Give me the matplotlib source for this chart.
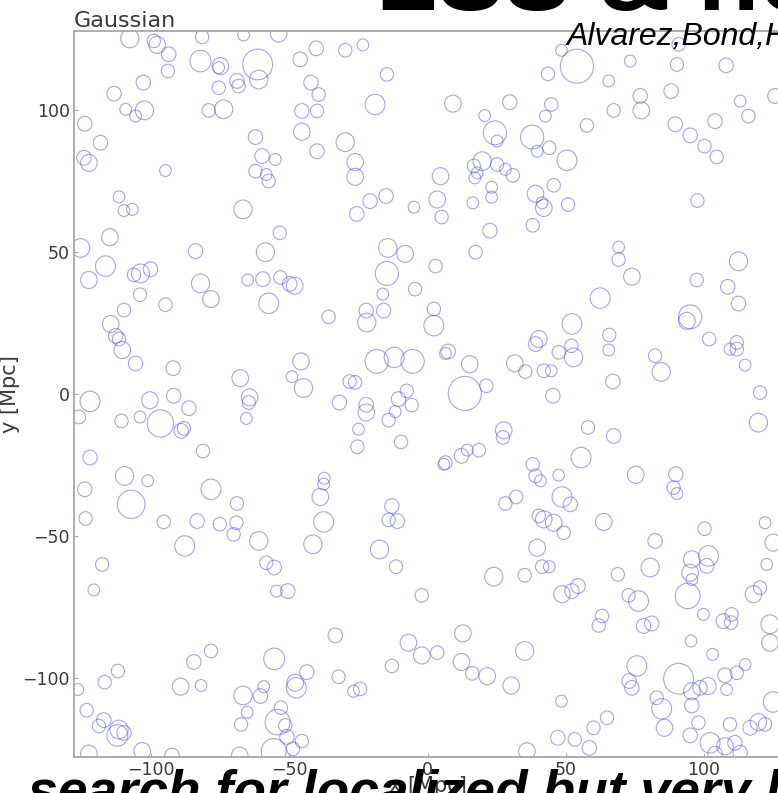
import numpy as np
import matplotlib
matplotlib.use("Agg")
import matplotlib.pyplot as plt
from matplotlib.patches import Circle
from matplotlib.collections import PatchCollection

bubble_x = [
    # upper left
    -107.8, -97.9, -99.1, -93.7, -94.0, -81.6, -66.6, -53.9, -82.2, -75.0,
    -75.6, -61.5, -61.1, -69.0, -68.4, -75.6, -73.8, -79.2, -102.9, -113.5,
    -109.3, -105.7, -102.5, -124.1, -118.4, -124.4, -122.6, -94.9, -111.7, -109.9,
    -106.9, -66.8, -62.3, -59.9, -55.1, -62.3, -58.4, -57.5, -46.1, -40.3,
    -29.8, -23.4, -42.2, -39.4, -45.5, -40.0, -45.5, -40.0, -29.8, -26.2,
    -26.2, -19.0, -14.7, -15.0, -20.8, -25.6, -4.9, -53.5, -58.7, -84.0,
    -115.0, -125.6, -116.6, -103.9, -100.3, -106.3, -14.4, -8.1, -14.7,
    # upper right
    54.1, 48.5, 43.6, 73.4, 90.3, 90.9, 108.1, 65.6, 88.2, 77.0,
    77.4, 67.4, 9.2, 29.8, 20.7, 24.4, 25.2, 37.9, 44.8, 42.7,
    57.7, 44.1, 39.7, 50.5, 19.8, 16.8, 18.0, 25.2, 28.2, 30.9,
    17.1, 4.7, 3.5, 5.1, 23.2, 23.2, 16.4, 39.1, 42.1, 41.5,
    45.7, 50.9, 22.6, 38.1, 17.4, 2.9, 69.2, 69.2, 112.6, 97.7,
    89.7, 95.1, 100.3, 104.7, 104.1, 113.2, 116.2, 125.8,
    # middle left
    -122.6, -82.2, -78.4, -65.1, -59.6, -53.3, -49.9, -48.1, -57.5, -104.1,
    -94.9, -109.9, -114.7, -112.9, -111.7, -110.5, -105.7, -92.1, -67.8, -64.4,
    -64.7, -65.6, -35.8, -45.8, -49.1, -44.9, -22.2, -22.0, -15.9, -16.2,
    -4.5, -18.4, -12.1, -5.4, -28.2, -26.2, -31.9, -22.2, -22.2, -7.5,
    -10.5, -5.7, -11.7, -14.1, -25.0, -25.4, -9.6, -122.2, -126.2, -100.5,
    -91.9, -86.4, -104.1, -110.8, -96.7, -89.2, -88.2, -81.3, -122.2, -109.7,
    -101.3, -124.1, -78.4, -107.3, -69.0, -37.4, -37.6, -38.8, -12.9,
    # middle right
    74.0, 97.5, 108.7, 112.6, 62.5, 95.1, 93.9, 2.3, 2.3, 7.5,
    6.5, 15.3, 13.5, 21.3, 31.6, 35.4, 40.3, 39.1, 52.3, 47.5,
    52.1, 52.9, 42.1, 44.8, 45.4, 65.8, 65.6, 67.1, 82.4, 84.6,
    102.0, 112.0, 109.5, 112.0, 115.0, 120.4, 119.8, 27.6, 27.3, 6.5,
    5.9, 12.3, 14.4, 18.6, 58.1, 67.4, 55.6, 38.1, 39.1, 40.9,
    47.5, 75.4, 89.9, 89.1, 90.3, 28.2, 32.1, 48.7, 51.7,
    # lower left
    -123.8, -95.5, -83.4, -75.2, -69.2, -70.2, -87.9, -61.1, -37.6, -41.5,
    -14.1, -10.9, -17.4, -11.4, -117.8, -120.8, -58.4, -55.5, -54.7, -50.6,
    -2.1, -33.4, -6.9, -2.1, -12.9, -78.4, -84.6, -55.5, -112.1, -116.9,
    -126.6, -89.4, -82.0, -47.9, -47.5, -43.7, -32.2, -26.8, -24.4, -66.8,
    -60.5, -59.3, -123.4, -117.2, -119.0, -111.7, -112.3, -109.9, -65.3, -67.5,
    -54.3, -53.1, -51.5, -50.9, -45.5, -48.7, -55.7, -122.6, -103.3, -92.5,
    -68.0,
    # lower right
    42.1, 45.7, 49.3, 40.3, 63.8, 100.3, 122.2, 125.2, 122.8, 82.4,
    39.7, 80.6, 95.7, 101.7, 101.1, 95.1, 95.7, 24.0, 35.2, 41.5,
    44.1, 68.9, 48.7, 52.3, 54.5, 72.8, 76.4, 94.2, 118.0, 120.4,
    99.9, 107.1, 110.1, 109.9, 63.2, 62.0, 78.2, 81.2, 124.0, 124.0,
    95.4, 103.2, 12.8, 3.5, 35.2, 12.3, 16.2, 21.6, 30.3, 75.8,
    73.0, 74.0, 90.9, 95.7, 98.7, 101.5, 107.7, 112.0, 115.0, 108.3,
    125.2, 83.0, 84.8, 95.7, 85.8, 95.1, 98.1, 109.5, 116.8, 119.8,
    122.2, 102.3, 107.7, 111.3, 113.2, 104.1, 48.5, 65.0, 60.1, 53.3,
    47.2, 58.6, 36.0,
]

bubble_y = [
    # upper left
    125.4, 123.1, 124.5, 119.8, 113.9, 125.9, 126.6, 127.1, 117.4, 115.6,
    115.1, 116.2, 110.9, 110.4, 108.6, 108.0, 100.4, 100.0, 109.8, 105.9,
    100.4, 98.0, 100.0, 95.3, 88.6, 83.3, 81.5, 78.8, 69.5, 64.7,
    65.1, 65.1, 90.6, 83.9, 82.7, 78.6, 77.4, 75.1, 118.0, 121.9,
    121.2, 123.1, 109.8, 105.6, 99.8, 99.8, 92.5, 85.6, 88.8, 81.8,
    76.6, 102.1, 112.7, 69.8, 68.0, 63.5, 65.9, 56.8, 50.0, 50.4,
    55.3, 51.5, 45.1, 42.5, 44.0, 42.0, 51.5, 49.4, 42.5,
    # upper right
    115.6, 121.2, 112.9, 117.4, 116.2, 123.3, 115.9, 110.4, 106.8, 105.1,
    100.0, 100.0, 102.4, 102.9, 98.2, 92.1, 89.2, 90.6, 102.1, 98.0,
    94.7, 86.8, 85.6, 82.4, 82.1, 80.4, 78.0, 80.9, 79.2, 77.1,
    76.2, 76.8, 68.6, 62.4, 72.9, 69.4, 67.4, 70.6, 65.6, 67.4,
    73.6, 66.8, 57.6, 59.5, 50.0, 45.1, 51.8, 47.4, 46.8, 68.2,
    95.1, 91.2, 87.4, 83.6, 96.2, 103.3, 98.0, 105.1,
    # middle left
    40.2, 39.0, 33.5, 40.2, 40.5, 41.1, 38.8, 38.2, 32.0, 35.0,
    31.5, 29.6, 24.7, 20.5, 19.4, 15.5, 10.8, 9.1, 5.6, -1.2,
    -3.0, -8.6, 27.2, 11.5, 6.1, 2.1, 29.4, 25.2, 29.4, 35.2,
    37.0, 11.5, 12.9, 11.5, 4.4, 4.1, -3.0, -3.8, -6.5, 1.1,
    -1.8, -3.9, -6.2, -9.2, -12.4, -18.6, -16.9, -2.6, -8.1, -2.2,
    -0.6, -5.0, -8.1, -9.5, -10.4, -13.0, -12.1, -20.1, -22.4, -28.9,
    -30.6, -33.6, -33.6, -38.9, -38.6, -29.7, -31.8, -36.3, -39.5,
    # middle right
    41.4, 40.2, 37.8, 31.9, 33.8, 27.2, 25.8, 30.0, 24.1, 15.0,
    14.3, 10.5, 0.2, 2.9, 10.8, 7.9, 19.4, 17.6, 24.7, 14.7,
    17.0, 12.9, 8.2, 8.2, -0.6, 20.8, 15.5, 4.4, 13.5, 7.8,
    19.4, 18.2, 15.8, 15.8, 10.2, 0.5, -10.1, -12.8, -15.3, -24.2,
    -24.8, -21.8, -19.8, -19.8, -11.8, -14.8, -22.4, -24.8, -28.9, -30.6,
    -28.6, -28.5, -28.3, -33.0, -35.1, -38.6, -36.3, -36.3, -38.9,
    # lower left
    -43.9, -45.1, -44.8, -45.9, -45.4, -49.5, -53.6, -51.8, -45.1, -53.0,
    -44.4, -44.8, -54.8, -60.9, -60.1, -69.1, -59.5, -61.2, -69.5, -69.5,
    -71.0, -85.1, -87.7, -92.2, -95.9, -90.6, -94.5, -93.4, -97.7, -101.6,
    -104.2, -103.2, -102.8, -101.8, -103.6, -98.1, -99.7, -104.8, -104.0, -106.3,
    -106.5, -103.2, -111.5, -115.0, -117.1, -118.3, -120.4, -119.5, -112.2, -116.5,
    -115.7, -110.6, -116.9, -120.9, -122.4, -125.1, -126.0, -126.8, -125.9, -127.5,
    -127.5,
    # lower right
    -44.2, -45.4, -48.9, -43.0, -45.1, -47.5, -45.4, -52.4, -60.1, -51.8,
    -54.2, -61.2, -58.3, -57.1, -60.6, -63.0, -65.4, -64.4, -63.9, -60.9,
    -60.9, -63.6, -70.6, -69.5, -67.7, -71.0, -73.0, -71.2, -70.6, -68.3,
    -77.7, -80.1, -77.7, -80.6, -78.3, -81.6, -81.8, -80.9, -81.2, -87.7,
    -87.1, -91.8, -84.4, -91.2, -90.6, -94.5, -98.5, -99.5, -102.8, -95.9,
    -101.2, -103.6, -100.4, -104.8, -103.6, -103.0, -99.2, -98.3, -95.4, -104.2,
    -108.6, -107.1, -111.0, -109.8, -117.7, -120.4, -115.9, -116.5, -117.7, -115.7,
    -116.5, -123.0, -124.2, -123.0, -126.5, -126.8, -108.3, -114.2, -117.7, -121.8,
    -121.2, -124.8, -126.0,
]

bubble_r = [
    # upper left
    3.3, 3.0, 2.4, 2.6, 2.4, 2.4, 2.1, 3.0, 3.8, 3.0,
    2.1, 5.4, 3.3, 2.6, 2.4, 2.4, 3.3, 2.4, 2.6, 2.6,
    2.1, 2.1, 3.3, 2.6, 2.6, 2.6, 3.0, 2.1, 2.1, 2.1,
    2.1, 3.3, 2.6, 2.6, 2.1, 2.4, 2.1, 2.4, 2.6, 2.6,
    2.4, 2.1, 2.6, 2.4, 2.6, 2.4, 3.0, 2.6, 3.3, 3.0,
    3.0, 3.6, 2.4, 2.6, 2.6, 2.6, 2.1, 2.4, 3.3, 2.6,
    3.0, 3.3, 3.6, 3.3, 2.6, 2.4, 3.3, 3.0, 4.2,
    # upper right
    6.0, 2.1, 2.4, 2.1, 2.4, 2.4, 2.6, 2.1, 2.6, 2.6,
    3.0, 2.4, 3.0, 2.6, 2.1, 4.2, 2.1, 4.2, 2.4, 2.1,
    2.4, 2.4, 2.1, 3.6, 3.3, 2.4, 2.1, 2.4, 2.1, 2.4,
    2.1, 3.0, 3.0, 2.4, 2.1, 2.1, 2.1, 3.0, 3.0, 2.1,
    2.4, 2.4, 2.6, 2.4, 2.4, 2.4, 2.1, 2.4, 3.3, 2.4,
    2.6, 2.6, 2.4, 2.4, 2.6, 2.1, 2.4, 2.6,
    # middle left
    3.0, 3.3, 3.0, 2.1, 2.6, 2.4, 2.6, 3.0, 3.6, 2.4,
    2.4, 2.4, 3.0, 2.6, 2.4, 3.0, 2.6, 2.6, 3.0, 3.0,
    2.4, 2.1, 2.4, 3.0, 2.1, 3.3, 2.6, 3.3, 2.6, 2.1,
    2.4, 4.2, 3.6, 4.2, 2.4, 2.4, 2.6, 2.6, 3.0, 2.4,
    2.6, 2.4, 2.1, 2.4, 2.1, 2.4, 2.4, 3.6, 2.4, 3.0,
    2.6, 2.6, 2.1, 2.4, 4.8, 2.6, 2.4, 2.4, 2.6, 3.3,
    2.1, 2.6, 3.6, 5.0, 2.4, 2.1, 2.1, 3.0, 2.6,
    # middle right
    3.0, 2.4, 2.6, 2.6, 3.6, 4.2, 3.0, 2.4, 3.6, 2.6,
    2.1, 3.0, 6.0, 2.4, 3.0, 2.4, 3.0, 2.6, 3.6, 2.4,
    2.4, 3.3, 2.4, 2.1, 2.6, 2.4, 2.1, 2.6, 2.4, 3.3,
    2.4, 2.4, 2.1, 2.4, 2.1, 2.4, 3.3, 3.0, 2.4, 2.4,
    2.1, 2.6, 2.1, 2.4, 2.4, 2.6, 3.6, 2.4, 2.4, 2.1,
    2.1, 3.0, 2.6, 2.4, 2.1, 2.4, 2.4, 3.6, 2.6,
    # lower left
    2.4, 2.4, 2.6, 2.4, 2.4, 2.4, 3.6, 3.3, 3.6, 3.3,
    2.4, 2.6, 3.3, 2.4, 2.4, 2.1, 2.4, 2.6, 2.1, 2.6,
    2.4, 2.6, 3.0, 3.0, 2.4, 2.4, 2.6, 3.8, 2.4, 2.4,
    2.1, 3.0, 2.1, 3.0, 3.6, 2.6, 2.4, 2.1, 2.4, 3.3,
    2.6, 2.1, 2.4, 2.6, 2.4, 3.3, 3.8, 2.6, 2.1, 2.4,
    4.5, 2.4, 2.4, 2.6, 2.4, 2.4, 4.5, 3.0, 3.0, 2.6,
    3.0,
    # lower right
    3.0, 3.0, 2.4, 2.4, 3.0, 2.4, 2.1, 3.0, 2.1, 2.6,
    3.0, 3.3, 3.0, 3.6, 2.6, 3.0, 2.1, 3.3, 2.4, 2.4,
    2.1, 2.4, 3.0, 2.6, 2.6, 2.4, 3.6, 4.5, 3.0, 2.4,
    2.1, 2.6, 2.4, 2.4, 2.4, 2.4, 2.6, 2.6, 3.3, 3.0,
    2.1, 2.1, 3.0, 2.4, 3.3, 3.0, 2.4, 3.0, 3.0, 3.6,
    2.6, 2.6, 5.4, 3.0, 2.6, 3.0, 2.6, 2.4, 2.1, 2.1,
    3.6, 2.4, 3.6, 2.6, 3.0, 2.6, 2.4, 2.4, 2.6, 3.0,
    2.4, 3.6, 3.0, 2.6, 2.6, 2.6, 2.1, 2.4, 2.4, 2.4,
    2.6, 2.6, 3.0,
]

ticks = [-100, -50, 0, 50, 100]
box_half = 128

fig = plt.figure(figsize=(7.78, 7.93), dpi=100)
ax = fig.add_axes([0.0951, 0.0454, 0.9088, 0.9155])

circles = [Circle((x, y), r) for x, y, r in zip(bubble_x, bubble_y, bubble_r)]
ax.add_collection(PatchCollection(circles, facecolor="none",
                                  edgecolor=(0.3, 0.3, 0.85), linewidth=0.8, alpha=0.5))

ax.set_xlim(-box_half, box_half)
ax.set_ylim(-box_half, box_half)
ax.set_xticks(ticks)
ax.set_yticks(ticks)
ax.tick_params(direction="in", length=3, color="#aaaaaa", labelsize=12.5,
               labelcolor="#3a3a3a", pad=3)
for s in ax.spines.values():
    s.set_color("#a0a0a0")
    s.set_linewidth(1.2)

ax.set_title("Gaussian", loc="left", fontsize=16, color="#3a3a3a", pad=3)
ax.set_xlabel("x [Mpc]", fontsize=15, color="#3a3a3a", labelpad=-2)
ax.set_ylabel("y [Mpc]", fontsize=15, color="#3a3a3a", labelpad=2)

# slide text around the plot
fig.text(0.483, 0.988, "LSS & non-Gaussianity", fontsize=72, fontweight="bold",
         family="Liberation Sans", color="black", va="baseline")
fig.text(0.7288, 0.9433, "Alvarez,Bond,Huang", fontsize=23, style="italic",
         family="Liberation Sans", color="black", va="baseline")
fig.text(0.036, -0.019, "search for localized but very large", fontsize=38.5,
         fontweight="bold", style="italic", family="Liberation Sans",
         color="black", va="baseline")

fig.savefig("out.png", dpi=100)
